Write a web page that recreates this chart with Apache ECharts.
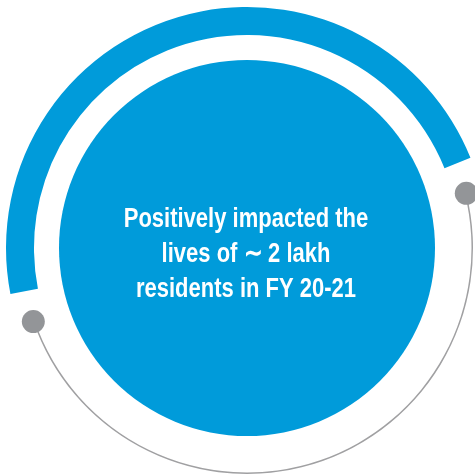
<!DOCTYPE html>
<html>
<head>
<meta charset="utf-8">
<script src="https://cdn.jsdelivr.net/npm/echarts@6/dist/echarts.min.js"></script>
<style>
  html, body { margin: 0; padding: 0; background: #fff; }
  #main { width: 475px; height: 476px; }
</style>
</head>
<body>
<div id="main"></div>
<script>
// arcs in degrees: [drawn part, hidden part]
const blueArc = [169, 191];
const greyArc = [175, 185];
// end dots of the grey arc (angle in degrees, radius)
const dotAngles = [199, 14];
const dotRadius = [226, 226];
const centerText = ['Positively impacted the', 'lives of \u223c 2 lakh', 'residents in FY 20-21'];

const chart = echarts.init(document.getElementById('main'), null, { renderer: 'canvas' });

const blue = '#009bda';
const grey = '#939598';
const ctr = [247, 248];

const option = {
  animation: false,
  polar: { center: ctr, radius: 241 },
  angleAxis: { type: 'value', min: 0, max: 360, startAngle: 0, clockwise: false, show: false },
  radiusAxis: { type: 'value', min: 0, max: 241, show: false },
  // condensed bold caption, narrowed like the original typeface
  graphic: [{
    type: 'text',
    x: 246,
    y: 254,
    scaleX: 0.8,
    silent: true,
    z: 100,
    style: {
      text: centerText.join('\n'),
      fill: '#fff',
      font: 'bold 27.5px "Liberation Sans", Arial, sans-serif',
      lineHeight: 35,
      align: 'center',
      verticalAlign: 'middle'
    }
  }],
  series: [
    {
      // big inner disc
      type: 'pie',
      center: ctr,
      radius: [0, 188],
      silent: true,
      label: { show: false },
      labelLine: { show: false },
      itemStyle: { color: blue },
      data: [{ value: 1, name: 'disc' }]
    },
    {
      type: 'pie',
      center: ctr,
      radius: [213, 241],
      startAngle: 191,
      clockwise: true,
      silent: true,
      label: { show: false },
      labelLine: { show: false },
      data: [
        { value: blueArc[0], itemStyle: { color: blue } },
        { value: blueArc[1], itemStyle: { color: 'transparent' } }
      ]
    },
    {
      type: 'pie',
      center: ctr,
      radius: [224.5, 226],
      startAngle: 14,
      clockwise: true,
      silent: true,
      label: { show: false },
      labelLine: { show: false },
      data: [
        { value: greyArc[0], itemStyle: { color: '#a0a0a2' } },
        { value: greyArc[1], itemStyle: { color: 'transparent' } }
      ]
    },
    {
      type: 'scatter',
      coordinateSystem: 'polar',
      symbolSize: 23,
      silent: true,
      itemStyle: { color: grey, opacity: 1 },
      data: dotAngles.map((a, i) => [dotRadius[i], a])
    }
  ]
};

chart.setOption(option);
</script>
</body>
</html>
